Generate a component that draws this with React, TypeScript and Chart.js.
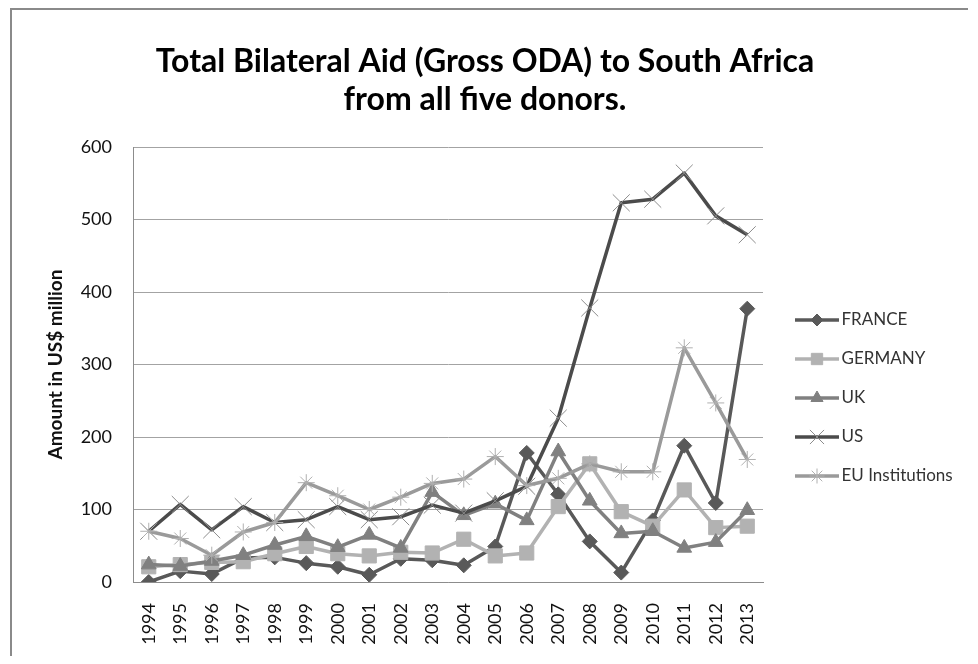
import React, { useEffect, useRef } from 'react';
import { Chart, registerables } from 'chart.js';
import { drawPoint } from 'chart.js/helpers';

Chart.register(...registerables);

const FONT = 'Lato';

const titleLines = ['Total Bilateral Aid (Gross ODA) to South Africa', 'from all five donors.'];
const yAxisTitle = 'Amount in US$ million';

const years = ['1994', '1995', '1996', '1997', '1998', '1999', '2000', '2001', '2002', '2003',
  '2004', '2005', '2006', '2007', '2008', '2009', '2010', '2011', '2012', '2013'];

const seriesNames = ['FRANCE', 'GERMANY', 'UK', 'US', 'EU Institutions'];

const france = [0, 15, 11, 33, 34, 26, 21, 10, 32, 30, 23, 49, 178, 121, 56, 13, 85, 188, 109, 377];
const germany = [21, 24, 27, 28, 39, 49, 39, 36, 41, 40, 59, 36, 40, 104, 163, 97, 77, 127, 75, 77];
const uk = [24, 22, 29, 37, 51, 63, 48, 65, 47, 124, 92, 108, 85, 180, 112, 67, 70, 47, 55, 99];
const us = [70, 107, 72, 104, 82, 86, 104, 86, 90, 106, 95, 112, 132, 226, 378, 523, 528, 564, 505, 479];
const eu = [70, 60, 37, 69, 82, 137, 119, 100, 117, 136, 142, 173, 133, 143, 163, 152, 152, 323, 247, 169];

const seriesValues = [france, germany, uk, us, eu];

const yTicks = { min: 0, max: 600, step: 100 };

// styles (kept apart from the data)
const lineColors = ['#595959', '#b2b2b2', '#808080', '#4b4b4b', '#9a9a9a'];
const pointStyles = ['rectRot', 'rect', 'triangle', 'crossRot', 'star'];
const pointRadii = [7.5, 10, 8.5, 12, 8.5];
const legendRadii = [6, 8, 7, 10, 7.5];
const pointFills = ['#595959', '#b2b2b2', '#808080', '#8c8c8c', '#b0b0b0'];
const pointBorders = ['#595959', '#b2b2b2', '#808080', '#8c8c8c', '#b0b0b0'];
const pointBorderWidths = [1, 1, 1, 1, 1];

function makeLegendImage(i: number): HTMLCanvasElement {
  const c = document.createElement('canvas');
  c.width = 60;
  c.height = 20;
  const ctx = c.getContext('2d') as CanvasRenderingContext2D;
  ctx.strokeStyle = lineColors[i];
  ctx.lineWidth = 3.5;
  ctx.beginPath();
  ctx.moveTo(16, 10);
  ctx.lineTo(60, 10);
  ctx.stroke();
  ctx.fillStyle = pointFills[i];
  ctx.strokeStyle = pointBorders[i];
  ctx.lineWidth = pointBorderWidths[i];
  drawPoint(ctx, { pointStyle: pointStyles[i] as any, radius: legendRadii[i], rotation: 0, borderWidth: pointBorderWidths[i] } as any, 38, 10);
  return c;
}

export default function App() {
  const ref = useRef<HTMLCanvasElement | null>(null);

  useEffect(() => {
    if (!ref.current) return;
    const legendImages = seriesNames.map((_, i) => makeLegendImage(i));
    const chart = new Chart(ref.current, {
      type: 'line',
      data: {
        labels: years,
        datasets: seriesNames.map((name, i) => ({
          label: name,
          data: seriesValues[i],
          borderColor: lineColors[i],
          backgroundColor: pointFills[i],
          borderWidth: 3.5,
          borderJoinStyle: 'round' as const,
          pointStyle: pointStyles[i] as any,
          pointRadius: pointRadii[i],
          pointBackgroundColor: pointFills[i],
          pointBorderColor: pointBorders[i],
          pointBorderWidth: pointBorderWidths[i],
          tension: 0,
          order: seriesNames.length - i,
        })),
      },
      options: {
        animation: false,
        responsive: false,
        devicePixelRatio: 1,
        layout: { padding: { left: 0, right: 10, top: 0, bottom: 0 } },
        scales: {
          x: {
            type: 'category',
            offset: true,
            grid: { display: false, drawTicks: false },
            border: { display: true, color: '#8c8c8c', width: 1 },
            ticks: {
              autoSkip: false,
              minRotation: 90,
              maxRotation: 90,
              padding: 21,
              color: '#111',
              font: { family: FONT, size: 18 },
            },
            afterFit: (s: any) => { s.height = 74; },
          },
          y: {
            min: yTicks.min,
            max: yTicks.max,
            ticks: {
              stepSize: yTicks.step,
              padding: 21,
              color: '#111',
              font: { family: FONT, size: 18 },
            },
            grid: { color: '#a3a3a3', lineWidth: 1, drawTicks: false },
            border: { display: true, color: '#8c8c8c', width: 1 },
            title: {
              display: true,
              text: yAxisTitle,
              color: '#111',
              font: { family: FONT, size: 19, weight: 'bold' },
              padding: { top: 32, bottom: 0 },
            },
            afterFit: (s: any) => { s.width = 121; },
          },
        },
        plugins: {
          title: {
            display: true,
            text: titleLines,
            color: '#000',
            font: { family: FONT, size: 32, weight: 'bold', lineHeight: 38 / 32 },
            padding: { top: 33, bottom: 28 },
          },
          legend: {
            position: 'right',
            align: 'start',
            fullSize: false,
            maxWidth: 195,
            title: {
              display: true,
              text: ' ',
              font: { size: 10, lineHeight: 1.2 },
              padding: { top: 130.5, bottom: 0 },
            },
            labels: {
              usePointStyle: true,
              pointStyleWidth: 48,
              padding: 22,
              color: '#333',
              font: { family: FONT, size: 17 },
              generateLabels: (ch: any) => ch.data.datasets.map((ds: any, i: number) => ({
                text: ds.label,
                pointStyle: legendImages[i],
                fillStyle: 'rgba(0,0,0,0)',
                strokeStyle: 'rgba(0,0,0,0)',
                lineWidth: 0,
                hidden: false,
                datasetIndex: i,
                fontColor: '#333',
              })),
            },
          },
          tooltip: { enabled: false },
        },
      },
    } as any);
    return () => chart.destroy();
  }, []);

  return (
    <div style={{ marginLeft: 2, borderLeft: '2px solid #8a8a8a', borderTop: '2px solid #8a8a8a', width: 956, height: 646 }}>
      <canvas ref={ref} width={956} height={646} style={{ display: 'block', width: 956, height: 646 }} />
    </div>
  );
}
